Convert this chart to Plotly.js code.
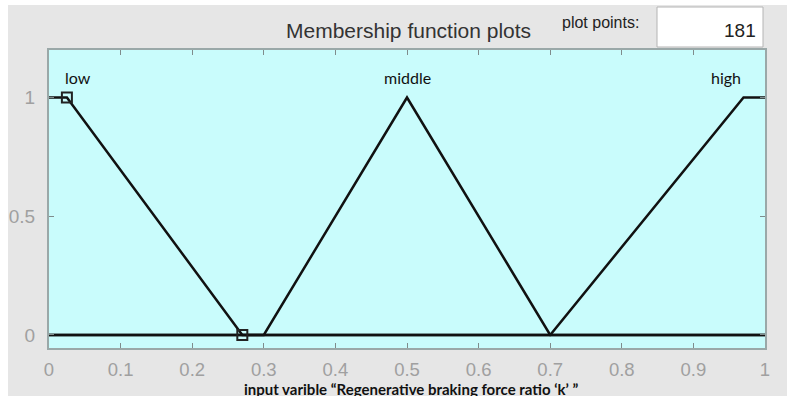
<!DOCTYPE html>
<html>
<head>
<meta charset="utf-8">
<script src="https://cdn.plot.ly/plotly-3.0.1.min.js"></script>
<style>
  html, body { margin: 0; padding: 0; background: #ffffff; }
  #plot { width: 787px; height: 396px; }
</style>
</head>
<body>
<div id="plot"></div>
<script>
// membership functions of the input variable
const lowX = [0, 0.025, 0.27, 1];
const lowY = [1, 1, 0, 0];
const middleX = [0, 0.3, 0.5, 0.7, 1];
const middleY = [0, 0, 1, 0, 0];
const highX = [0, 0.7, 0.97, 1];
const highY = [0, 0, 1, 1];

// selected MF handles (squares)
const handleX = [0.025, 0.27];
const handleY = [1, 0];

const mfNames = ["low", "middle", "high"];
const labelX = [0.04, 0.5, 0.945];
const labelY = 1.085;

const xTicks = [0, 0.1, 0.2, 0.3, 0.4, 0.5, 0.6, 0.7, 0.8, 0.9, 1];
const yTicks = [0, 0.5, 1];

// plot area in pixels, used to place the widgets around it
const L = 49, R = 765, T = 50, B = 348;
function px(x) { return (x - L) / (R - L); }
function py(y) { return (B - y) / (B - T); }

const lineStyle = { color: "#111111", width: 2.5 };

var data = [
    { x: lowX, y: lowY, mode: "lines", line: lineStyle, hoverinfo: "skip" },
    { x: middleX, y: middleY, mode: "lines", line: lineStyle, hoverinfo: "skip" },
    { x: highX, y: highY, mode: "lines", line: lineStyle, hoverinfo: "skip" },
    {
        x: handleX, y: handleY, mode: "markers",
        marker: { symbol: "square-open", size: 10, color: "#222222", line: { width: 2, color: "#222222" } },
        hoverinfo: "skip"
    }
];

var annotations = mfNames.map(function (name, i) {
    return {
        x: labelX[i], y: labelY, xref: "x", yref: "y", text: name, showarrow: false,
        font: { family: "Lato, 'Open Sans', sans-serif", size: 16, color: "#111111" }
    };
});

annotations.push({
    x: px(408), y: py(31), xref: "paper", yref: "paper",
    text: "Membership function plots", showarrow: false,
    xanchor: "center", yanchor: "middle",
    font: { family: "Liberation Sans, Arial, sans-serif", size: 21, color: "#333333" }
});
annotations.push({
    x: px(641), y: py(23), xref: "paper", yref: "paper", text: "plot points:", showarrow: false,
    xanchor: "right", yanchor: "middle",
    font: { family: "Liberation Sans, Arial, sans-serif", size: 16, color: "#222222" }
});
annotations.push({
    x: px(758), y: py(30), xref: "paper", yref: "paper", text: "181", showarrow: false,
    xanchor: "right", yanchor: "middle",
    font: { family: "Liberation Sans, Arial, sans-serif", size: 19, color: "#222222" }
});
annotations.push({
    x: px(411), y: py(388.5), xref: "paper", yref: "paper",
    text: "<b>input varible “Regenerative braking force ratio ‘k’ ”</b>", showarrow: false,
    xanchor: "center", yanchor: "middle",
    font: { family: "Lato, 'Open Sans', sans-serif", size: 15, color: "#111111" }
});

var layout = {
    width: 787,
    height: 396,
    margin: { l: L, r: 787 - R, t: T, b: 396 - B },
    paper_bgcolor: "#e6e6e6",
    plot_bgcolor: "#c9fcfc",
    showlegend: false,
    xaxis: {
        range: [0, 1], tickvals: xTicks, ticktext: xTicks.map(String),
        ticks: "inside", ticklen: 5, tickcolor: "#7f8c8c", tickwidth: 1,
        showline: true, linecolor: "#9aa8a8", linewidth: 2, mirror: "ticks",
        showgrid: false, zeroline: false, fixedrange: true,
        tickfont: { family: "Liberation Sans, Arial, sans-serif", size: 18.5, color: "#a0a0a0" },
        ticklabelstandoff: 4
    },
    yaxis: {
        range: [-0.055, 1.2], tickvals: yTicks, ticktext: ["0", "0.5", "1"],
        ticks: "inside", ticklen: 5, tickcolor: "#7f8c8c", tickwidth: 1,
        showline: true, linecolor: "#9aa8a8", linewidth: 2, mirror: "ticks",
        showgrid: false, zeroline: false, fixedrange: true,
        tickfont: { family: "Liberation Sans, Arial, sans-serif", size: 19, color: "#a0a0a0" },
        ticklabelstandoff: 8
    },
    annotations: annotations,
    shapes: [
        // white strips at the left and top edge of the screenshot
        { type: "rect", xref: "paper", yref: "paper", x0: px(0), x1: px(8), y0: py(396), y1: py(0),
          fillcolor: "#ffffff", line: { width: 0 } },
        { type: "rect", xref: "paper", yref: "paper", x0: px(0), x1: px(787), y0: py(5), y1: py(0),
          fillcolor: "#ffffff", line: { width: 0 } },
        // plot points edit box
        { type: "rect", xref: "paper", yref: "paper", x0: px(657), x1: px(763), y0: py(47), y1: py(7),
          fillcolor: "#ffffff", line: { width: 1, color: "#b4b4b4" } }
    ]
};

Plotly.newPlot("plot", data, layout, { staticPlot: true });
</script>
</body>
</html>
